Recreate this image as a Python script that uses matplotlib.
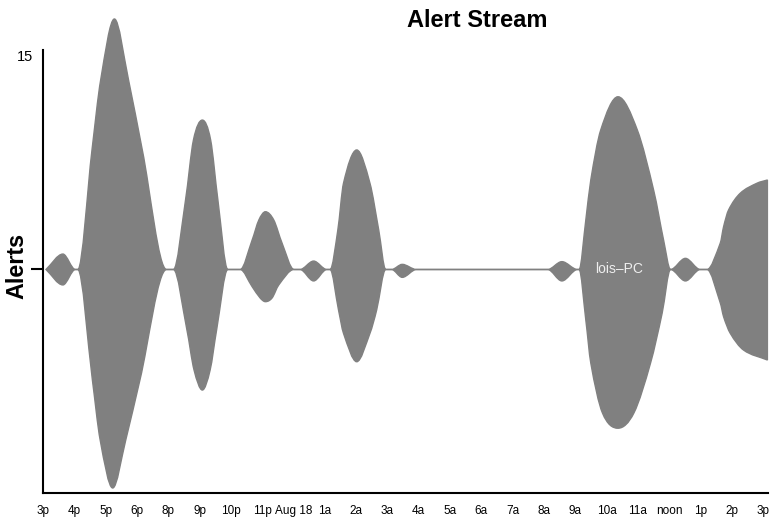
import numpy as np
import matplotlib
matplotlib.use('Agg')
import matplotlib.pyplot as plt
from matplotlib.path import Path
from matplotlib.patches import PathPatch

plt.rcParams['font.family'] = ['Liberation Sans', 'DejaVu Sans']

# hour labels, one per slot (3p .. 3p next day)
hour_labels = ['3p', '4p', '5p', '6p', '8p', '9p', '10p', '11p', 'Aug 18', '1a', '2a', '3a',
               '4a', '5a', '6a', '7a', '8a', '9a', '10a', '11a', 'noon', '1p', '2p', '3p']

# upper edge of the stream (x in hour slots, value in alerts)
upper_t = [0.095, 0.636, 1.034, 1.114, 1.565, 1.842, 2.281, 2.733, 3.172, 3.945,
           4.168, 4.553, 4.806, 5.091, 5.355, 5.587, 5.902,
           6.300, 6.681, 6.895, 7.105, 7.372, 7.636, 8.018,
           8.209, 8.645, 9.068,
           9.173, 9.418, 9.599, 10.022, 10.445, 10.725, 10.946,
           11.136, 11.476, 11.931,
           16.121, 16.576, 17.076,
           17.127, 17.340, 17.499, 17.817, 18.368, 18.985, 19.513, 19.831, 20.045,
           20.522, 20.999,
           21.212, 21.636, 21.741, 21.900, 22.272, 22.804, 23.141]
upper_v = [0.0, 1.08, 0.0, 0.0, 8.36, 13.25, 17.52, 13.25, 8.36, 0.0,
           0.0, 4.86, 9.06, 10.45, 9.06, 4.86, 0.0,
           0.0, 2.06, 3.46, 4.04, 3.46, 1.85, 0.0,
           0.0, 0.59, 0.0,
           0.0, 2.76, 6.03, 8.36, 6.03, 2.76, 0.0,
           0.0, 0.36, 0.0,
           0.0, 0.55, 0.0,
           0.0, 3.46, 6.26, 9.76, 12.08, 9.76, 5.49, 1.99, 0.0,
           0.78, 0.0,
           0.0, 1.85, 2.99, 4.16, 5.33, 6.03, 6.26]

# lower edge of the stream
lower_t = [0.095, 0.636, 1.034, 1.114, 1.578, 1.826, 2.227, 2.644, 3.096, 3.945,
           4.168, 4.598, 4.825, 5.091, 5.339, 5.546, 5.902,
           6.300, 6.681, 6.936, 7.105, 7.318, 7.531, 8.018,
           8.209, 8.645, 9.068,
           9.173, 9.440, 9.599, 10.022, 10.445, 10.659, 10.946,
           11.136, 11.476, 11.931,
           16.121, 16.576, 17.076,
           17.127, 17.340, 17.499, 17.871, 18.368, 18.877, 19.408, 19.780, 20.045,
           20.522, 20.999,
           21.212, 21.636, 21.741, 21.954, 22.377, 23.141]
lower_v = [0.0, -1.08, 0.0, 0.0, -7.73, -11.92, -15.28, -11.92, -7.73, 0.0,
           0.0, -4.23, -7.03, -8.43, -7.03, -4.23, 0.0,
           0.0, -1.20, -1.99, -2.25, -1.99, -1.08, 0.0,
           0.0, -0.80, 0.0,
           0.0, -2.83, -4.46, -6.45, -4.46, -2.83, 0.0,
           0.0, -0.55, 0.0,
           0.0, -0.80, 0.0,
           0.0, -3.53, -6.54, -10.03, -11.10, -10.03, -6.54, -3.04, 0.0,
           -0.80, 0.0,
           0.0, -2.34, -3.30, -4.46, -5.63, -6.33]

series_name = 'lois\u2013PC'


def smooth_curve(xs, ys):
    """Cubic Bezier vertices through the points; flat tangents where the stream pinches to zero."""
    xs = np.asarray(xs, float)
    ys = np.asarray(ys, float)
    n = len(xs)
    t = np.zeros(n)
    for i in range(1, n - 1):
        if ys[i] == 0:
            t[i] = 0.0
        else:
            t[i] = (ys[i + 1] - ys[i - 1]) / (xs[i + 1] - xs[i - 1])
    t[0] = (ys[1] - ys[0]) / (xs[1] - xs[0])
    t[-1] = (ys[-1] - ys[-2]) / (xs[-1] - xs[-2])
    verts = [(xs[0], ys[0])]
    for i in range(n - 1):
        dx = (xs[i + 1] - xs[i]) / 3
        verts.append((xs[i] + dx, ys[i] + dx * t[i]))
        verts.append((xs[i + 1] - dx, ys[i + 1] - dx * t[i + 1]))
        verts.append((xs[i + 1], ys[i + 1]))
    return verts


fig = plt.figure(figsize=(7.73, 5.20), dpi=100)
ax = fig.add_axes([43 / 773, 27 / 520, 725 / 773, 443 / 520])

# stream outline: upper edge left->right, lower edge right->left
top = smooth_curve(upper_t, upper_v)
bot = smooth_curve(lower_t, lower_v)[::-1]
verts = top + bot + [top[0]]
codes = ([Path.MOVETO] + [Path.CURVE4] * (len(top) - 1)
         + [Path.LINETO] + [Path.CURVE4] * (len(bot) - 1) + [Path.CLOSEPOLY])
stream = PathPatch(Path(verts, codes), facecolor='#808080', edgecolor='#808080',
                   linewidth=1.0, clip_on=False)
ax.add_patch(stream)

# series label on the widest part of the second half
imax = int(np.argmax(upper_v[30:])) + 30
ax.text(upper_t[imax] + 0.05, 0, series_name, color='#eeeeee', fontsize=10,
        ha='center', va='center')

ax.set_xlim(0.0955, 23.16)
ax.set_ylim(-15.63, 15.35)

ax.set_xticks(range(len(hour_labels)))
ax.set_xticklabels(hour_labels)
ax.tick_params(axis='x', length=0, pad=8.5, labelsize=8.5)

ax.set_yticks([0, 15])
ax.set_yticklabels(['', '15'])
ax.tick_params(axis='y', length=8.6, width=1.5, pad=-1.5, labelsize=10.5)
ax.yaxis.get_major_ticks()[1].tick1line.set_visible(False)

for side in ['top', 'right']:
    ax.spines[side].set_visible(False)
for side in ['left', 'bottom']:
    ax.spines[side].set_linewidth(1.5)
    ax.spines[side].set_color('black')

fig.text(477 / 773, 1 - 27 / 520, 'Alert Stream', fontsize=17, fontweight='bold',
         ha='center', va='baseline')
fig.text(16.5 / 773, 1 - 266 / 520, 'Alerts', fontsize=16.8, fontweight='bold',
         rotation=90, ha='center', va='center')

fig.savefig('out.png', dpi=100)
